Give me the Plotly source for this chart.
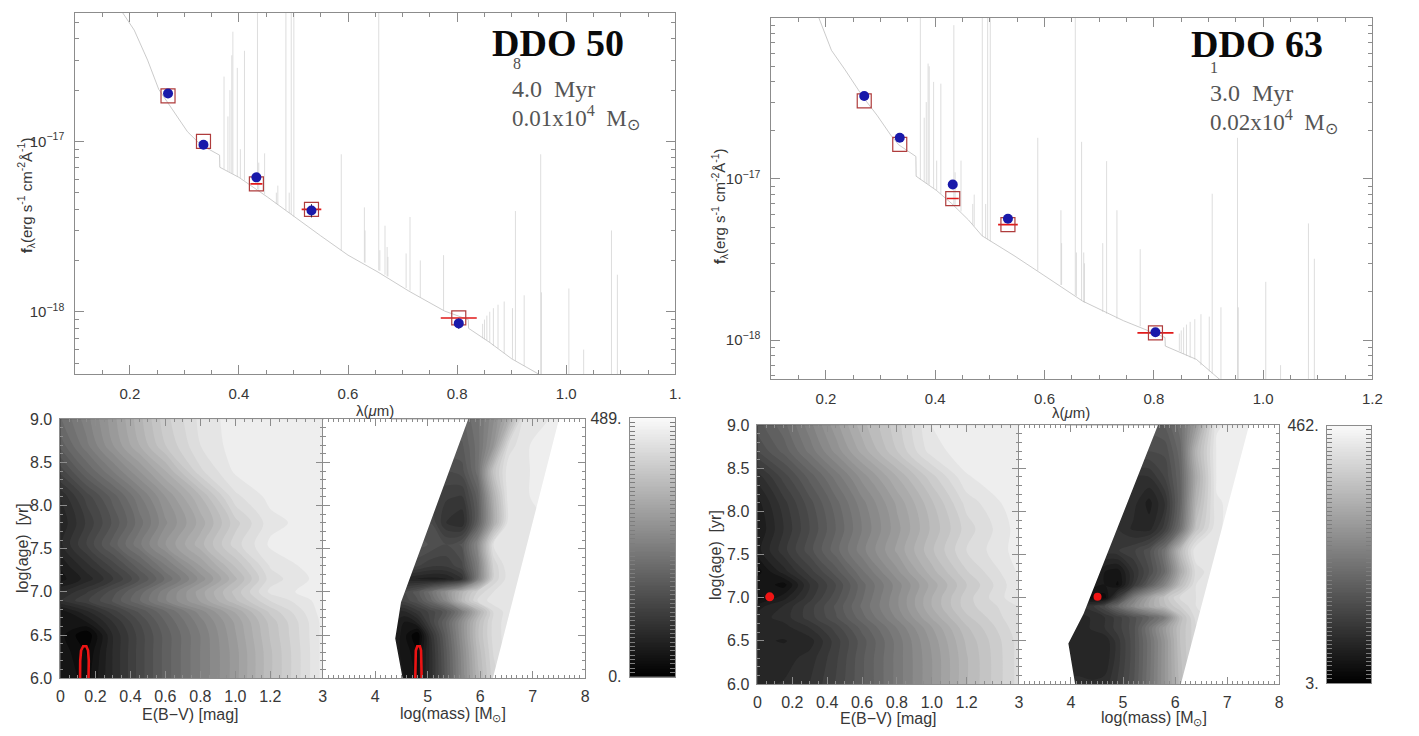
import numpy as np
import plotly.graph_objects as go

W, H = 1419, 736

# ------------------------------------------------------------------
# Photometry (HST broad-band filters), fluxes in erg s^-1 cm^-2 A^-1
# ------------------------------------------------------------------
filter_wave = [0.270, 0.335, 0.432, 0.533, 0.803]
filter_halfwidth = [0.0, 0.0, 0.011, 0.018, 0.033]

ddo50_obs = [1.91e-17, 9.55e-18, 6.15e-18, 3.93e-18, 8.55e-19]
ddo50_obs_err = [0.8e-18, 0.4e-18, 0.25e-18, 0.35e-18, 0.6e-19]
ddo50_model = [1.85e-17, 1.00e-17, 5.63e-18, 3.99e-18, 9.2e-19]

ddo63_obs = [3.27e-17, 1.80e-17, 9.24e-18, 5.66e-18, 1.12e-18]
ddo63_obs_err = [1.2e-18, 0.8e-18, 0.35e-18, 0.25e-18, 0.6e-19]
ddo63_model = [3.05e-17, 1.64e-17, 7.56e-18, 5.21e-18, 1.11e-18]

# ------------------------------------------------------------------
# Best-fit model spectra: continuum + nebular emission lines
# ------------------------------------------------------------------
ddo50_cont_wave = [0.175, 0.185, 0.208, 0.2325, 0.253, 0.3056, 0.330, 0.3645, 0.3650,
                   0.400, 0.452, 0.500, 0.550, 0.600, 0.655, 0.712, 0.777, 0.8205,
                   0.8210, 0.860, 0.900, 0.950, 1.000, 1.100, 1.200]
ddo50_cont_flux = [7.0e-17, 5.8e-17, 4.5e-17, 3.0e-17, 2.02e-17, 1.14e-17, 9.55e-18, 8.3e-18, 7.05e-18,
                   6.15e-18, 4.72e-18, 3.63e-18, 2.79e-18, 2.15e-18, 1.71e-18, 1.32e-18, 1.01e-18, 9.0e-19,
                   8.0e-19, 6.6e-19, 5.3e-19, 4.3e-19, 3.6e-19, 2.7e-19, 2.1e-19]

ddo63_cont_wave = [0.180, 0.210, 0.235, 0.2685, 0.2936, 0.3186, 0.333, 0.3645, 0.3650,
                   0.402, 0.4297, 0.4606, 0.4857, 0.544, 0.5985, 0.6695, 0.7447, 0.803,
                   0.8205, 0.8210, 0.878, 0.920, 1.000, 1.100, 1.200]
ddo63_cont_flux = [1.15e-16, 6.28e-17, 4.75e-17, 3.2e-17, 2.48e-17, 1.87e-17, 1.63e-17, 1.38e-17, 1.04e-17,
                   8.5e-18, 7.06e-18, 5.58e-18, 4.44e-18, 3.35e-18, 2.53e-18, 1.75e-18, 1.32e-18, 1.1e-18,
                   1.04e-18, 9.2e-19, 7.6e-19, 5.73e-19, 4.6e-19, 3.6e-19, 2.9e-19]

line_wave = [0.3727, 0.3798, 0.3835, 0.3869, 0.3889, 0.3970, 0.4026, 0.4102, 0.4340, 0.4363,
             0.4471, 0.4686, 0.4713, 0.4861, 0.4922, 0.4959, 0.5007, 0.5876, 0.6300, 0.6312,
             0.6563, 0.6583, 0.6678, 0.6717, 0.6731, 0.7065, 0.7136, 0.7325, 0.7751, 0.8467,
             0.8502, 0.8545, 0.8598, 0.8665, 0.8750, 0.8863, 0.9015, 0.9069, 0.9229, 0.9532,
             0.9546, 1.0049, 1.0320, 1.0830, 1.0938]

ddo50_line_base = [6.9e-18, 6.7e-18, 6.6e-18, 6.5e-18, 6.45e-18, 6.2e-18, 6.1e-18, 5.9e-18, 5.25e-18, 5.2e-18,
                   4.9e-18, 4.3e-18, 4.25e-18, 3.95e-18, 3.8e-18, 3.75e-18, 3.62e-18, 2.3e-18, 1.95e-18, 1.94e-18,
                   1.75e-18, 1.74e-18, 1.65e-18, 1.62e-18, 1.61e-18, 1.38e-18, 1.33e-18, 1.22e-18, 1.02e-18, 7.0e-19,
                   6.9e-19, 6.8e-19, 6.6e-19, 6.3e-19, 6.1e-19, 5.7e-19, 5.3e-19, 5.15e-19, 4.8e-19, 4.3e-19,
                   4.3e-19, 3.55e-19, 3.3e-19, 2.9e-19, 2.8e-19]
ddo50_line_peak = [2.4e-17, 1.4e-17, 2.0e-17, 3.2e-17, 4.4e-17, 2.7e-17, 9.0e-18, 3.4e-17, 6.5e-17, 7.5e-18,
                   8.5e-18, 5.0e-18, 5.5e-18, 1e-15, 5.0e-18, 1e-15, 1e-15, 8.4e-18, 4.1e-18, 3.0e-18,
                   1e-15, 2.3e-18, 3.2e-18, 2.4e-18, 2.1e-18, 2.2e-18, 3.6e-18, 2.0e-18, 2.15e-18, 8.5e-19,
                   9.0e-19, 9.5e-19, 1.0e-18, 1.05e-18, 1.1e-18, 1.15e-18, 1.05e-18, 3.9e-18, 1.25e-18, 8.4e-18,
                   1.3e-18, 1.37e-18, 6.0e-19, 3.0e-18, 1.65e-18]

ddo63_line_base = [9.9e-18, 9.6e-18, 9.4e-18, 9.3e-18, 9.2e-18, 8.8e-18, 8.5e-18, 8.1e-18, 6.9e-18, 6.8e-18,
                   6.3e-18, 5.2e-18, 5.1e-18, 4.42e-18, 4.3e-18, 4.2e-18, 4.1e-18, 2.7e-18, 2.2e-18, 2.2e-18,
                   1.9e-18, 1.88e-18, 1.76e-18, 1.72e-18, 1.71e-18, 1.5e-18, 1.46e-18, 1.36e-18, 1.22e-18, 8.6e-19,
                   8.4e-19, 8.2e-19, 8.0e-19, 7.8e-19, 7.6e-19, 7.0e-19, 6.4e-19, 6.2e-19, 5.7e-19, 5.1e-19,
                   5.1e-19, 4.5e-19, 4.3e-19, 3.8e-19, 3.7e-19]
ddo63_line_peak = [1e-15, 2.4e-17, 3.0e-17, 5.2e-17, 5.0e-17, 4.0e-17, 1.3e-17, 3.9e-17, 9.0e-17, 1.1e-17,
                   1.3e-17, 7.0e-18, 8.0e-18, 1e-15, 7.0e-18, 1e-15, 1e-15, 1.8e-17, 6.4e-18, 4.0e-18,
                   1e-15, 3.5e-18, 1.7e-17, 3.5e-18, 3.0e-18, 4.0e-18, 1.29e-17, 6.4e-18, 3.67e-18, 1.1e-18,
                   1.15e-18, 1.2e-18, 1.25e-18, 1.3e-18, 1.35e-18, 1.45e-18, 1.4e-18, 8.1e-18, 1.6e-18, 1.8e-17,
                   1.6e-18, 2.3e-18, 7.0e-19, 5.3e-18, 3.2e-18]

# ------------------------------------------------------------------
# Chi-square maps over the (E(B-V), log age) and (log mass, log age) grids
# ------------------------------------------------------------------
age_grid = [6.0, 6.3, 6.5, 6.65, 6.77, 6.9, 7.0, 7.15, 7.3, 7.55, 7.8, 8.1, 8.4, 8.7, 9.0]
ebv_grid = [0.0, 0.15, 0.3, 0.45, 0.6, 0.8, 1.0, 1.2, 1.5]
ddo50_mass_grid = [4.3, 4.55, 4.8, 5.05, 5.35, 5.65, 5.95, 6.25, 6.55, 6.85, 7.2, 7.6]
ddo63_mass_grid = [3.9, 4.15, 4.4, 4.65, 4.9, 5.2, 5.5, 5.8, 6.1, 6.4, 6.8, 7.5]

ddo50_chi2_ebv = [
    [49, 24, 83, 137, 186, 245, 303, 372, 462],
    [44, 15, 83, 137, 186, 245, 303, 372, 462],
    [39, 0, 83, 137, 186, 245, 308, 377, 462],
    [34, 49, 98, 147, 196, 254, 313, 381, 462],
    [39, 78, 122, 166, 210, 269, 328, 396, 465],
    [98, 127, 166, 210, 259, 313, 372, 425, 465],
    [80, 112, 155, 202, 255, 318, 381, 445, 469],
    [42, 72, 112, 160, 214, 283, 355, 432, 465],
    [52, 92, 137, 188, 242, 310, 377, 442, 469],
    [78, 132, 186, 240, 293, 352, 416, 460, 469],
    [68, 117, 166, 220, 274, 333, 401, 450, 469],
    [83, 137, 186, 240, 293, 357, 435, 462, 469],
    [137, 196, 245, 293, 342, 420, 460, 465, 469],
    [186, 240, 293, 342, 391, 440, 465, 465, 469],
    [210, 254, 303, 352, 401, 445, 465, 467, 469],
]

ddo50_chi2_mass = [
    [59, 49, 29, 88, 171, 264, 352, 416, 440, 440, 440, 440],
    [59, 44, 20, 88, 176, 269, 362, 425, 450, 450, 450, 450],
    [73, 39, 0, 98, 186, 279, 372, 430, 450, 450, 450, 450],
    [73, 49, 68, 132, 196, 279, 367, 430, 450, 450, 450, 450],
    [73, 78, 108, 137, 171, 245, 342, 425, 450, 455, 455, 455],
    [137, 137, 161, 205, 269, 362, 425, 450, 455, 455, 455, 455],
    [147, 147, 171, 220, 284, 352, 411, 440, 455, 455, 455, 455],
    [73, 73, 64, 59, 64, 98, 250, 411, 450, 455, 455, 455],
    [137, 137, 132, 117, 117, 142, 245, 411, 455, 455, 455, 455],
    [171, 171, 171, 161, 147, 166, 269, 440, 455, 455, 455, 460],
    [147, 147, 147, 147, 98, 83, 186, 333, 455, 455, 455, 460],
    [122, 122, 122, 122, 117, 112, 186, 342, 455, 455, 460, 460],
    [147, 147, 147, 147, 147, 156, 220, 381, 455, 455, 460, 460],
    [176, 176, 176, 176, 176, 176, 220, 293, 430, 455, 460, 460],
    [205, 205, 205, 205, 205, 196, 225, 274, 342, 455, 455, 460],
]

ddo63_chi2_ebv = [
    [76, 81, 95, 127, 168, 223, 278, 338, 407],
    [72, 72, 86, 122, 168, 223, 278, 338, 407],
    [67, 63, 72, 118, 164, 223, 283, 343, 407],
    [67, 72, 95, 132, 177, 233, 292, 352, 412],
    [72, 86, 118, 154, 196, 251, 311, 366, 416],
    [58, 81, 118, 159, 205, 260, 324, 379, 416],
    [26, 58, 104, 150, 200, 260, 324, 379, 430],
    [49, 26, 95, 141, 196, 255, 315, 370, 430],
    [26, 72, 118, 164, 214, 274, 333, 384, 434],
    [58, 104, 150, 196, 242, 297, 352, 402, 439],
    [49, 95, 141, 187, 233, 288, 343, 393, 439],
    [58, 104, 150, 196, 242, 297, 352, 407, 444],
    [86, 132, 177, 223, 269, 324, 379, 430, 444],
    [141, 177, 223, 269, 315, 370, 425, 440, 444],
    [164, 196, 242, 288, 333, 379, 432, 440, 444],
]

ddo63_chi2_mass = [
    [81, 81, 81, 86, 113, 154, 214, 278, 347, 393, 416, 425],
    [76, 76, 72, 67, 104, 150, 210, 278, 352, 398, 416, 425],
    [72, 72, 72, 67, 104, 150, 210, 278, 356, 398, 416, 425],
    [72, 72, 81, 95, 118, 150, 219, 288, 356, 398, 416, 425],
    [72, 72, 81, 95, 118, 150, 187, 233, 347, 407, 425, 430],
    [95, 95, 104, 141, 200, 260, 310, 350, 385, 416, 430, 439],
    [49, 49, 26, 26, 118, 230, 300, 360, 405, 416, 430, 439],
    [58, 58, 58, 49, 31, 104, 173, 246, 347, 416, 430, 439],
    [72, 72, 72, 49, 40, 95, 141, 200, 315, 407, 430, 439],
    [104, 104, 104, 104, 109, 122, 150, 214, 343, 430, 430, 439],
    [95, 95, 95, 95, 95, 76, 72, 118, 210, 361, 430, 439],
    [95, 95, 95, 95, 95, 86, 58, 95, 187, 333, 430, 439],
    [95, 95, 95, 95, 95, 95, 95, 127, 187, 315, 434, 439],
    [141, 141, 141, 141, 141, 141, 141, 145, 196, 333, 434, 439],
    [164, 164, 164, 164, 164, 164, 164, 173, 210, 288, 430, 439],
]

chi2_range_ddo50 = [0, 489]
chi2_range_ddo63 = [3, 462]

# edges of the model mass grid (outside is not covered by the models)
ddo50_mass_lo = [2.9, 4.55, 4.52, 4.38, 4.49, 5.77, 5.83, 2.9]
ddo50_age_lo = [5.9, 5.9, 6.0, 6.46, 6.88, 9.0, 9.1, 9.1]
ddo50_mass_hi = [6.24, 6.198, 8.1, 8.1, 7.542, 7.5]
ddo50_age_hi = [6.0, 5.9, 5.9, 9.1, 9.1, 9.0]
ddo63_mass_lo = [2.9, 4.108, 4.08, 3.95, 4.24, 5.67, 5.735, 2.9]
ddo63_age_lo = [5.9, 5.9, 6.0, 6.47, 6.81, 9.0, 9.1, 9.1]
ddo63_mass_hi = [6.11, 6.066, 8.1, 8.1, 7.464, 7.42]
ddo63_age_hi = [6.0, 5.9, 5.9, 9.1, 9.1, 9.0]

# confidence regions
ddo50_ci_ebv = [0.112, 0.113, 0.118, 0.130, 0.148, 0.158, 0.162, 0.160]
ddo50_ci_mass = [4.760, 4.765, 4.772, 4.800, 4.850, 4.872, 4.880, 4.885]
ddo50_ci_age = [5.95, 6.20, 6.32, 6.37, 6.37, 6.32, 6.20, 5.95]
ddo63_best_ebv, ddo63_best_mass, ddo63_best_age = 0.07, 4.51, 7.01

# ------------------------------------------------------------------
AX = 'rgb(140,140,140)'
TXT = 'rgb(55,55,55)'
SANS = 'Liberation Sans, Arial, sans-serif'
SERIF = 'Liberation Serif, Times New Roman, serif'
GREY = [[0.0, 'rgb(0,0,0)'], [1.0, 'rgb(250,250,250)']]


def px(x0, x1):
    return [x0 / W, x1 / W]


def py(y_top, y_bot):
    return [1 - y_bot / H, 1 - y_top / H]


fig = go.Figure()


def add_sed(xa, ya, cont_w, cont_f, lbase, lpeak, obs, obs_err, model):
    lx, ly = [], []
    for w, b, p in zip(line_wave, lbase, lpeak):
        lx += [w, w, None]
        ly += [b, p, None]
    fig.add_trace(go.Scatter(x=lx, y=ly, mode='lines', xaxis=xa, yaxis=ya,
                             line=dict(color='rgb(212,212,212)', width=0.8), hoverinfo='skip'))
    fig.add_trace(go.Scatter(x=cont_w, y=cont_f, mode='lines', xaxis=xa, yaxis=ya,
                             line=dict(color='rgb(190,190,190)', width=0.8), hoverinfo='skip'))
    fig.add_trace(go.Scatter(x=filter_wave, y=model, mode='markers', xaxis=xa, yaxis=ya,
                             marker=dict(symbol='square-open', size=14, color='rgb(175,60,60)',
                                         line=dict(width=1.2, color='rgb(175,60,60)')),
                             error_x=dict(type='data', array=filter_halfwidth, color='rgb(225,25,25)',
                                          thickness=1.6, width=0)))
    fig.add_trace(go.Scatter(x=filter_wave, y=obs, mode='markers', xaxis=xa, yaxis=ya,
                             marker=dict(symbol='circle', size=10, color='rgb(25,25,170)'),
                             error_y=dict(type='data', array=obs_err, color='rgb(40,40,60)',
                                          thickness=1, width=0)))


add_sed('x', 'y', ddo50_cont_wave, ddo50_cont_flux, ddo50_line_base, ddo50_line_peak,
        ddo50_obs, ddo50_obs_err, ddo50_model)
add_sed('x2', 'y2', ddo63_cont_wave, ddo63_cont_flux, ddo63_line_base, ddo63_line_peak,
        ddo63_obs, ddo63_obs_err, ddo63_model)


def add_map(xa, ya, xg, z, zr):
    fig.add_trace(go.Contour(x=xg, y=age_grid, z=z, xaxis=xa, yaxis=ya, colorscale=GREY,
                             zmin=zr[0], zmax=zr[1], showscale=False, hoverinfo='skip',
                             contours=dict(start=zr[0], end=zr[1], size=(zr[1] - zr[0]) / 30,
                                           coloring='fill', showlines=False),
                             line=dict(width=0, smoothing=0.9)))


def add_mask(xa, ya, mx, my):
    fig.add_trace(go.Scatter(x=mx, y=my, mode='lines', fill='toself', fillcolor='white',
                             line=dict(width=0, color='white'), xaxis=xa, yaxis=ya, hoverinfo='skip'))


def add_cbar(xa, ya, zr):
    levels = np.linspace(zr[0], zr[1], 160)
    fig.add_trace(go.Heatmap(x=[0, 1], y=levels, z=[[v, v] for v in levels], colorscale=GREY,
                             zmin=zr[0], zmax=zr[1], showscale=False, xaxis=xa, yaxis=ya,
                             hoverinfo='skip'))


# DDO 50 maps
add_map('x3', 'y3', ebv_grid, ddo50_chi2_ebv, chi2_range_ddo50)
fig.add_trace(go.Scatter(x=ddo50_ci_ebv, y=ddo50_ci_age, mode='lines', xaxis='x3', yaxis='y3',
                         line=dict(color='rgb(235,20,20)', width=2.6), hoverinfo='skip'))
add_map('x4', 'y4', ddo50_mass_grid, ddo50_chi2_mass, chi2_range_ddo50)
add_mask('x4', 'y4', ddo50_mass_lo, ddo50_age_lo)
add_mask('x4', 'y4', ddo50_mass_hi, ddo50_age_hi)
fig.add_trace(go.Scatter(x=ddo50_ci_mass, y=ddo50_ci_age, mode='lines', xaxis='x4', yaxis='y4',
                         line=dict(color='rgb(235,20,20)', width=2.6), hoverinfo='skip'))
add_cbar('x5', 'y5', chi2_range_ddo50)

# DDO 63 maps
add_map('x6', 'y6', ebv_grid, ddo63_chi2_ebv, chi2_range_ddo63)
fig.add_trace(go.Scatter(x=[ddo63_best_ebv], y=[ddo63_best_age], mode='markers', xaxis='x6', yaxis='y6',
                         marker=dict(color='rgb(240,20,20)', size=9), hoverinfo='skip'))
add_map('x7', 'y7', ddo63_mass_grid, ddo63_chi2_mass, chi2_range_ddo63)
add_mask('x7', 'y7', ddo63_mass_lo, ddo63_age_lo)
add_mask('x7', 'y7', ddo63_mass_hi, ddo63_age_hi)
fig.add_trace(go.Scatter(x=[ddo63_best_mass], y=[ddo63_best_age], mode='markers', xaxis='x7', yaxis='y7',
                         marker=dict(color='rgb(240,20,20)', size=8), hoverinfo='skip'))
add_cbar('x8', 'y8', chi2_range_ddo63)

# ------------------------------------------------------------------
# Axes
# ------------------------------------------------------------------
base_ax = dict(showgrid=False, zeroline=False, showline=True, linecolor=AX, linewidth=1,
               mirror='allticks', ticks='inside', tickcolor=AX, tickwidth=1)
sed_font = dict(family=SANS, size=15, color=TXT)
map_font = dict(family=SANS, size=16, color=TXT)

minor_log = [k * 10.0 ** n for n in (-19, -18, -17) for k in range(2, 10)]


def sed_x(dom, anchor, last):
    return dict(base_ax, domain=dom, anchor=anchor, range=[0.1, 1.2], tickmode='array',
                tickvals=[0.2, 0.4, 0.6, 0.8, 1.0, 1.2],
                ticktext=['0.2', '0.4', '0.6', '0.8', '1.0', last], ticklen=9,
                minor=dict(tickmode='linear', tick0=0.1, dtick=0.05, ticks='inside', ticklen=4,
                           tickcolor=AX),
                tickfont=sed_font, ticklabelstandoff=6)


def sed_y(dom, anchor, rng):
    return dict(base_ax, domain=dom, anchor=anchor, type='log', range=rng, tickmode='array',
                tickvals=[1e-18, 1e-17], ticktext=['10<sup>−18</sup>', '10<sup>−17</sup>'], ticklen=9,
                minor=dict(tickmode='array', tickvals=minor_log, ticks='inside', ticklen=4, tickcolor=AX),
                tickfont=sed_font, ticklabelstandoff=7)


def ebv_x(dom, anchor):
    return dict(base_ax, domain=dom, anchor=anchor, range=[0, 1.5], tickmode='array',
                tickvals=[0, 0.2, 0.4, 0.6, 0.8, 1.0, 1.2],
                ticktext=['0', '0.2', '0.4', '0.6', '0.8', '1.0', '1.2'], ticklen=7,
                minor=dict(tickmode='linear', tick0=0, dtick=0.05, ticks='inside', ticklen=3, tickcolor=AX),
                tickfont=map_font, ticklabelstandoff=4)


def mass_x(dom, anchor):
    return dict(base_ax, domain=dom, anchor=anchor, range=[3, 8], tickmode='array',
                tickvals=[3, 4, 5, 6, 7, 8], ticktext=['3', '4', '5', '6', '7', '8'], ticklen=7,
                minor=dict(tickmode='linear', tick0=3, dtick=0.1, ticks='inside', ticklen=3, tickcolor=AX),
                tickfont=map_font, ticklabelstandoff=4)


def age_y(dom, anchor, labels):
    return dict(base_ax, domain=dom, anchor=anchor, range=[6, 9], tickmode='array',
                tickvals=[6.0, 6.5, 7.0, 7.5, 8.0, 8.5, 9.0],
                ticktext=['6.0', '6.5', '7.0', '7.5', '8.0', '8.5', '9.0'], ticklen=7,
                minor=dict(tickmode='linear', tick0=6, dtick=0.1, ticks='inside', ticklen=3, tickcolor=AX),
                tickfont=map_font, ticklabelstandoff=4, showticklabels=labels)


def cbar_x(dom, anchor):
    return dict(domain=dom, anchor=anchor, range=[0, 1], showgrid=False, zeroline=False,
                showline=True, linecolor=AX, mirror=True, ticks='', showticklabels=False)


def cbar_y(dom, anchor, zr, top, bottom):
    minor = list(np.linspace(zr[0], zr[1], 61))[1:-1]
    return dict(base_ax, domain=dom, anchor=anchor, range=zr, tickmode='array', tickvals=zr,
                ticktext=[bottom, top], ticklen=6, tickcolor='rgb(120,120,120)',
                minor=dict(tickmode='array', tickvals=minor, ticks='inside', ticklen=5,
                           tickcolor='rgb(125,125,125)'),
                tickfont=map_font, ticklabelstandoff=4)


fig.update_layout(
    width=W, height=H, margin=dict(l=0, r=0, t=0, b=0),
    paper_bgcolor='white', plot_bgcolor='white', showlegend=False,
    xaxis=sed_x(px(72, 678), 'y', '1.'),
    yaxis=sed_y(py(5, 375), 'x', [-18.367, -16.246]),
    xaxis2=sed_x(px(775, 1382), 'y2', '1.2'),
    yaxis2=sed_y(py(10, 380), 'x2', [-18.242, -16.0]),
    xaxis3=ebv_x(px(57, 322), 'y3'),
    yaxis3=age_y(py(421, 686), 'x3', True),
    xaxis4=mass_x(px(322, 587), 'y4'),
    yaxis4=age_y(py(421, 686), 'x4', False),
    xaxis5=cbar_x(px(632, 678), 'y5'),
    yaxis5=cbar_y(py(420, 684.5), 'x5', chi2_range_ddo50, '489.', '0.'),
    xaxis6=ebv_x(px(761, 1025), 'y6'),
    yaxis6=age_y(py(427, 692), 'x6', True),
    xaxis7=mass_x(px(1025, 1288), 'y7'),
    yaxis7=age_y(py(427, 692), 'x7', False),
    xaxis8=cbar_x(px(1336, 1381), 'y8'),
    yaxis8=cbar_y(py(427.5, 691), 'x8', chi2_range_ddo63, '462.', '3.'),
)

# ------------------------------------------------------------------
# Text
# ------------------------------------------------------------------
ann = []


def label(x, y, text, size, family=SANS, color=TXT, angle=0, xanchor='center'):
    ann.append(dict(x=x / W, y=1 - y / H, xref='paper', yref='paper', text=text, showarrow=False,
                    font=dict(family=family, size=size, color=color), textangle=angle,
                    xanchor=xanchor, yanchor='middle'))


flux_title = '<b>f</b><sub>λ</sub>(erg s<sup>-1</sup> cm<sup>-2</sup>Å<sup>-1</sup>)'
label(375, 412, 'λ(<i>μ</i>m)', 15)
label(1078, 414, 'λ(<i>μ</i>m)', 15)
label(22, 192, flux_title, 15, angle=-90)
label(722, 203, flux_title, 15, angle=-90)

label(18, 553, 'log(age)  [yr]', 16, angle=-90)
label(718, 560, 'log(age)  [yr]', 16, angle=-90)
label(188, 723, 'E(B−V) [mag]', 16)
label(453, 723, 'log(mass) [M<sub>⊙</sub>]', 16)
label(893, 727, 'E(B−V) [mag]', 16)
label(1161, 727, 'log(mass) [M<sub>⊙</sub>]', 16)

# galaxy name and best-fit age / mass
label(560, 36, '<b>DDO 50</b>', 38, family=SERIF, color='rgb(10,10,10)')
label(518, 57, '8', 16, family=SERIF, color='rgb(80,80,80)')
label(511, 83, '4.0  Myr', 24, family=SERIF, color='rgb(85,85,85)', xanchor='left')
label(511, 112, '0.01x10<sup>4</sup>  M<sub>⊙</sub>', 23, family=SERIF, color='rgb(85,85,85)', xanchor='left')

label(1265, 37, '<b>DDO 63</b>', 38, family=SERIF, color='rgb(10,10,10)')
label(1222, 61, '1', 16, family=SERIF, color='rgb(80,80,80)')
label(1216, 87, '3.0  Myr', 24, family=SERIF, color='rgb(85,85,85)', xanchor='left')
label(1216, 116, '0.02x10<sup>4</sup>  M<sub>⊙</sub>', 23, family=SERIF, color='rgb(85,85,85)', xanchor='left')

fig.update_layout(annotations=ann)

fig.write_html('out.html')
